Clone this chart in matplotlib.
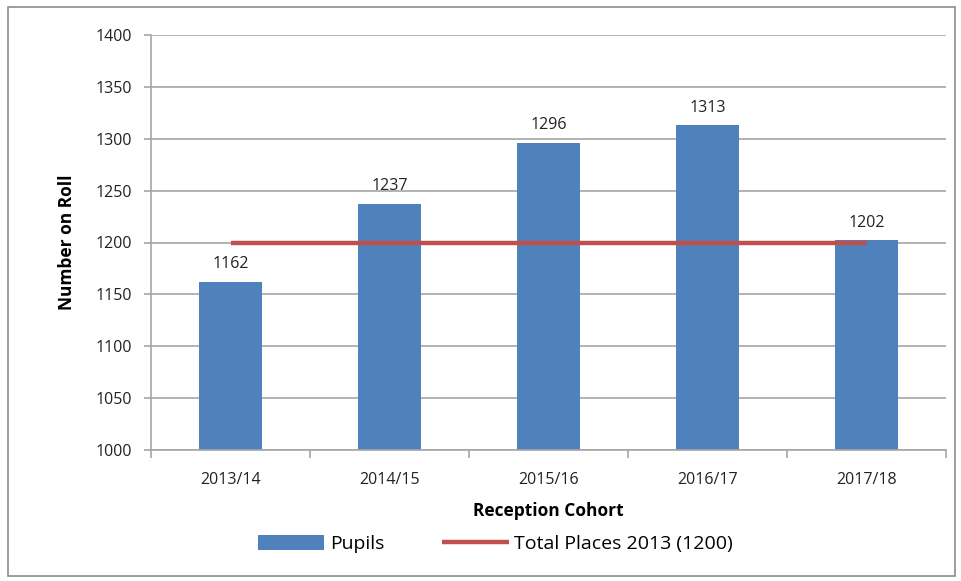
import matplotlib.pyplot as plt
import numpy as np
from matplotlib.patches import Rectangle

# Data
cohorts = ["2013/14", "2014/15", "2015/16", "2016/17", "2017/18"]
pupils = [1162, 1237, 1296, 1313, 1202]
total_places = [1200, 1200, 1200, 1200, 1200]

bar_color = "#4F81BD"
line_color = "#C0504D"
grid_color = "#A6A6A6"

plt.rcParams["font.family"] = ["Open Sans", "DejaVu Sans"]

fig = plt.figure(figsize=(9.62, 5.81), dpi=100)
ax = fig.add_axes([151 / 962, 1 - 450 / 581, 795 / 962, 415 / 581])

x = np.arange(len(cohorts))
bars = ax.bar(x, pupils, width=0.4, color=bar_color, label="Pupils", zorder=2)
line, = ax.plot(x, total_places, color=line_color, linewidth=3.2,
                label="Total Places 2013 (1200)", zorder=3, solid_capstyle="butt")

# value labels
for b, v in zip(bars, pupils):
    ax.annotate(f"{v}", (b.get_x() + b.get_width() / 2, v),
                xytext=(0, 7), textcoords="offset points",
                ha="center", va="bottom", fontsize=11.5, color="#222222")

ax.set_xlim(-0.5, len(cohorts) - 0.5)
ax.set_ylim(1000, 1400)
ax.set_yticks(np.arange(1000, 1401, 50))
ax.tick_params(axis="y", labelsize=11.5, length=5, color=grid_color, width=1.2,
               labelcolor="#222222", pad=9)
ax.set_xticks(x)
ax.set_xticklabels(cohorts)
ax.set_xticks(np.arange(-0.5, len(cohorts)), minor=True)
ax.tick_params(axis="x", which="major", length=0, labelsize=11.5, pad=16,
               labelcolor="#222222")
ax.tick_params(axis="x", which="minor", length=6, color=grid_color, width=1.2)

ax.grid(axis="y", color=grid_color, linewidth=1.2, zorder=0)
for s in ["top", "right"]:
    ax.spines[s].set_visible(False)
for s in ["left", "bottom"]:
    ax.spines[s].set_color(grid_color)
    ax.spines[s].set_linewidth(1.2)

ax.set_ylabel("Number on Roll", fontsize=12.5, fontweight="bold", labelpad=14)
ax.set_xlabel("Reception Cohort", fontsize=12.5, fontweight="bold", labelpad=10)

fig.legend([bars, line], ["Pupils", "Total Places 2013 (1200)"],
           loc="center", bbox_to_anchor=(0.515, 1 - 544 / 581), ncol=2,
           frameon=False, fontsize=14, handlelength=3.4, handleheight=0.8,
           columnspacing=3.0, handletextpad=0.3)

fig.patches.append(Rectangle((8 / 962, 1 - 576 / 581), 947 / 962, 569 / 581,
                             transform=fig.transFigure, fill=False,
                             edgecolor="#8C8C8C", linewidth=1.2))

fig.savefig("out.png", dpi=100)
